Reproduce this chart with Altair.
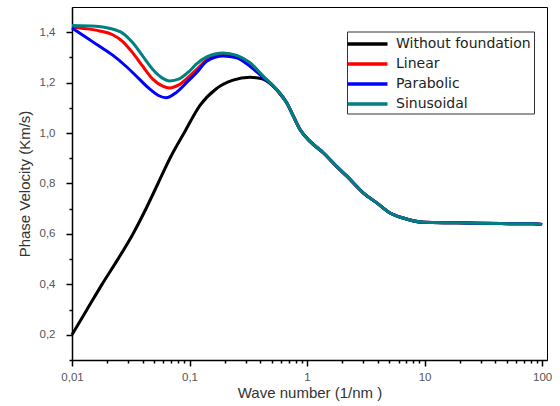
import altair as alt
import pandas as pd

series_names = ["Without foundation", "Linear", "Parabolic", "Sinusoidal"]
series_colors = ["#000000", "#ff0000", "#0000ff", "#008080"]

# common high-wavenumber branch shared by all curves
tail_k = [0.764, 0.871, 1.06, 1.38, 1.79, 2.18, 3.0, 3.92, 5.08, 6.56, 9.7, 18.8, 44, 84, 100]
tail_v = [1.067, 1.014, 0.967, 0.921, 0.867, 0.829, 0.763, 0.723, 0.683, 0.663, 0.646, 0.644, 0.641, 0.640, 0.637]

none_k = [0.01, 0.01342, 0.018, 0.0246, 0.033, 0.0426, 0.0539, 0.0682, 0.0898,
          0.1228, 0.168, 0.2346, 0.327, 0.414, 0.504, 0.613, 0.671]
none_v = [0.2, 0.3, 0.4, 0.5, 0.6, 0.7, 0.8, 0.9, 1.0,
          1.11, 1.175, 1.21, 1.221, 1.215, 1.19, 1.145, 1.12]

lin_k = [0.01, 0.0132, 0.0171, 0.0222, 0.027, 0.0329, 0.040, 0.0487, 0.0592, 0.0673, 0.0818,
         0.0995, 0.1135, 0.14, 0.193, 0.252, 0.327, 0.425, 0.552, 0.671]
lin_v = [1.421, 1.414, 1.405, 1.39, 1.363, 1.318, 1.265, 1.214, 1.186, 1.179, 1.192,
         1.225, 1.25, 1.29, 1.314, 1.306, 1.277, 1.223, 1.172, 1.12]

par_k = [0.01, 0.01315, 0.01698, 0.02233, 0.0288, 0.0372, 0.0452, 0.055, 0.0631, 0.0767,
         0.099, 0.1136, 0.14, 0.193, 0.252, 0.327, 0.425, 0.552, 0.671]
par_v = [1.417, 1.38, 1.345, 1.308, 1.265, 1.215, 1.177, 1.148, 1.14, 1.16,
         1.21, 1.237, 1.285, 1.306, 1.298, 1.265, 1.219, 1.172, 1.12]

sin_k = [0.01, 0.016, 0.0207, 0.027, 0.0329, 0.040, 0.0487, 0.0592, 0.0673, 0.0818, 0.0995,
         0.1135, 0.14, 0.193, 0.252, 0.327, 0.425, 0.552, 0.671]
sin_v = [1.427, 1.424, 1.416, 1.396, 1.358, 1.305, 1.252, 1.217, 1.207, 1.215, 1.245,
         1.272, 1.302, 1.318, 1.308, 1.279, 1.225, 1.173, 1.12]

x_ticks = [m * 10.0 ** e for e in range(-2, 2) for m in range(1, 10)] + [100]
y_ticks = [round(0.1 * i, 1) for i in range(1, 15)]

rows = []
for name, ks, vs in [(series_names[0], none_k, none_v), (series_names[1], lin_k, lin_v),
                     (series_names[2], par_k, par_v), (series_names[3], sin_k, sin_v)]:
    for i, (k, v) in enumerate(zip(ks + tail_k, vs + tail_v)):
        rows.append({"series": name, "k": k, "v": v, "i": i})
df = pd.DataFrame(rows)

x_label = ("datum.value == 0.01 ? '0,01' : datum.value == 0.1 ? '0,1' : datum.value == 1 ? '1' : "
           "datum.value == 10 ? '10' : datum.value == 100 ? '100' : ''")
x_major = "abs(log(datum.value)/LN10 - round(log(datum.value)/LN10)) < 0.000001"
y_label = "(round(datum.value*10) % 2 == 0) ? replace(format(datum.value, '.1f'), '.', ',') : ''"
y_major = "round(datum.value*10) % 2 == 0"

x_enc = alt.X("k:Q", scale=alt.Scale(type="log", domain=[0.01, 110], nice=False),
              axis=alt.Axis(values=x_ticks, labelExpr=x_label, title="Wave number (1/nm )",
                            tickSize={"condition": {"test": x_major, "value": 6}, "value": 3},
                            labelOverlap=False, labelFlush=False, labelBound=False, grid=False,
                            labelPadding=5, titlePadding=3))
y_enc = alt.Y("v:Q", scale=alt.Scale(domain=[0.1, 1.5], nice=False, zero=False),
              axis=alt.Axis(values=y_ticks, labelExpr=y_label, title="Phase Velocity (Km/s)",
                            tickSize={"condition": {"test": y_major, "value": 6}, "value": 3},
                            labelOverlap=False, labelFlush=False, grid=False,
                            labelPadding=11, titlePadding=7))
color_enc = alt.Color("series:N", scale=alt.Scale(domain=series_names, range=series_colors),
                      legend=alt.Legend(title=None, orient="none", legendX=275, legendY=24.5,
                                        symbolType="M-2.5,0H2.5", symbolSize=256,
                                        symbolStrokeWidth=3.5, symbolOffset=8,
                                        labelFont="DejaVu Sans", labelFontSize=14, labelColor="#222",
                                        labelOffset=18.5, padding=2.5, rowPadding=3,
                                        strokeColor="#333", fillColor="white"))

layers = []
for name in series_names:
    layers.append(
        alt.Chart(df).transform_filter(alt.datum.series == name)
        .mark_line(strokeWidth=3, interpolate="monotone")
        .encode(x=x_enc, y=y_enc, color=color_enc, order="i:Q")
    )

chart = alt.layer(*layers).properties(
    width=475, height=353,
    autosize=alt.AutoSizeParams(type="none"),
    padding={"left": 72, "top": 7, "right": 13, "bottom": 46},
).configure_view(stroke="#000", strokeWidth=1).configure_axis(
    domainColor="#000", domainWidth=1.5, tickColor="#000", tickWidth=1.5,
    labelFont="Liberation Sans", labelFontSize=11.5, labelColor="#555",
    titleFont="Liberation Sans", titleFontSize=15, titleFontWeight="normal", titleColor="#333",
)

chart.save("out.html", embed_options={"renderer": "svg", "actions": False})
